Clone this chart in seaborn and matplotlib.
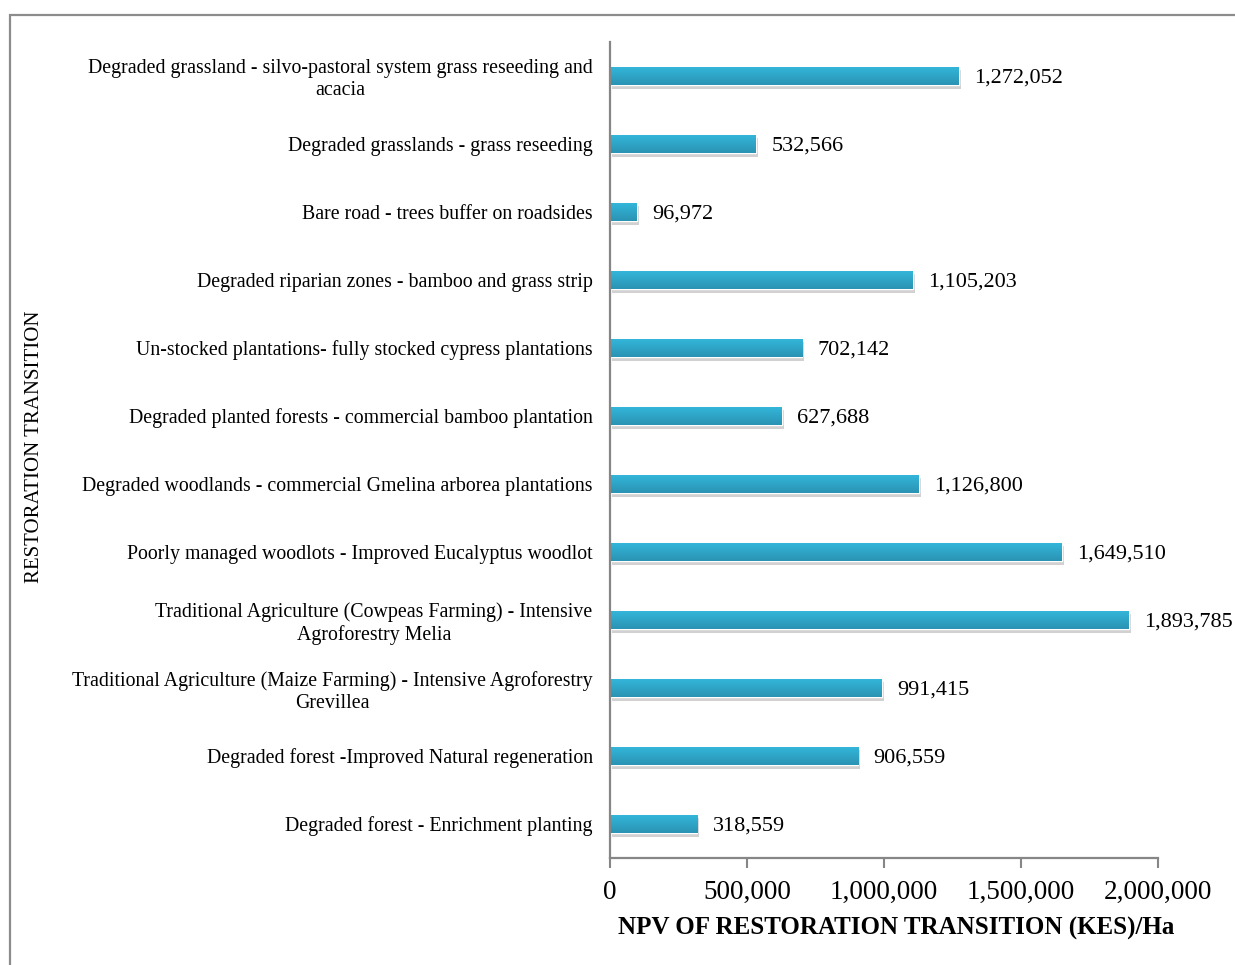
import numpy as np
import pandas as pd
import matplotlib
matplotlib.use("Agg")
import matplotlib.pyplot as plt
import matplotlib.patheffects as pe
from matplotlib.patches import Rectangle
import seaborn as sns

transitions = [
    "Degraded grassland - silvo-pastoral system grass reseeding and\nacacia",
    "Degraded grasslands - grass reseeding",
    "Bare road - trees buffer on roadsides",
    "Degraded riparian zones - bamboo and grass strip",
    "Un-stocked plantations- fully stocked cypress plantations",
    "Degraded planted forests - commercial bamboo plantation",
    "Degraded woodlands - commercial Gmelina arborea plantations",
    "Poorly managed woodlots - Improved Eucalyptus woodlot",
    "Traditional Agriculture (Cowpeas Farming) - Intensive\nAgroforestry Melia",
    "Traditional Agriculture (Maize Farming) - Intensive Agroforestry\nGrevillea",
    "Degraded forest -Improved Natural regeneration",
    "Degraded forest - Enrichment planting",
]
npv = [1272052, 532566, 96972, 1105203, 702142, 627688,
       1126800, 1649510, 1893785, 991415, 906559, 318559]
x_ticks = [0, 500000, 1000000, 1500000, 2000000]

df = pd.DataFrame({"transition": transitions, "npv": npv})

sns.set_theme(style="white")
plt.rcParams["font.family"] = ["Liberation Serif", "DejaVu Serif"]
plt.rcParams["text.color"] = "black"
plt.rcParams["xtick.labelcolor"] = "black"
plt.rcParams["ytick.labelcolor"] = "black"
plt.rcParams["axes.labelcolor"] = "black"

fig = plt.figure(figsize=(12.35, 9.65), dpi=100)
ax = fig.add_axes([610 / 1235, 1 - 858 / 965, 548 / 1235, (858 - 42) / 965])

sns.barplot(data=df, x="npv", y="transition", orient="h", color="#2eaed4",
            width=0.27, saturation=1, ax=ax)

# gradient + soft shadow on each bar
grad = np.linspace(0, 1, 64).reshape(-1, 1)
cmap = matplotlib.colors.LinearSegmentedColormap.from_list("bar", ["#33b8dc", "#2b93b3"])
for p in ax.patches:
    p.set_path_effects([pe.SimplePatchShadow(offset=(1.5, -2.5), shadow_rgbFace="#9a9a9a", alpha=0.45),
                        pe.Normal()])
    x0, y0 = p.get_x(), p.get_y()
    w, h = p.get_width(), p.get_height()
    im = ax.imshow(grad, extent=(x0, x0 + w, y0 + h, y0), aspect="auto",
                   cmap=cmap, origin="upper", zorder=p.get_zorder() + 0.1)
    im.set_clip_path(p)

ax.set_xlim(0, 2000000)
ax.set_ylim(len(transitions) - 0.5, -0.5)

texts = ax.bar_label(ax.containers[0], labels=[f"{v:,}" for v in npv], padding=11,
                     fontsize=16, color="black")
for t in texts:
    t.set_va("center_baseline")

ax.set_xticks(x_ticks)
ax.set_xticklabels([f"{t:,}" for t in x_ticks], fontsize=19.5)
ax.tick_params(axis="x", length=7, width=1.5, color="#868686", pad=9, bottom=True)
ax.tick_params(axis="y", length=0, pad=12.5, labelsize=14.3)
for lbl in ax.get_yticklabels():
    lbl.set_multialignment("center")

ax.set_xlabel("NPV OF RESTORATION TRANSITION (KES)/Ha", fontsize=18,
              fontweight="bold")
ax.xaxis.set_label_coords(0.522, -0.086, transform=ax.transAxes)
ax.xaxis.label.set_va("center")
ax.set_ylabel("")
fig.text(35 / 1235, 1 - 447 / 965, "RESTORATION TRANSITION", rotation=90,
         ha="center", va="center", fontsize=15)

sns.despine(ax=ax)
for s in ["left", "bottom"]:
    ax.spines[s].set_color("#868686")
    ax.spines[s].set_linewidth(1.6)

# outer frame of the chart area
fig.patches.append(Rectangle((10 / 1235, -0.05), 1.2, 1 - 15 / 965 + 0.05,
                             transform=fig.transFigure, fill=False,
                             edgecolor="#8c8c8c", linewidth=1.6))

fig.savefig("out.png", dpi=100)
